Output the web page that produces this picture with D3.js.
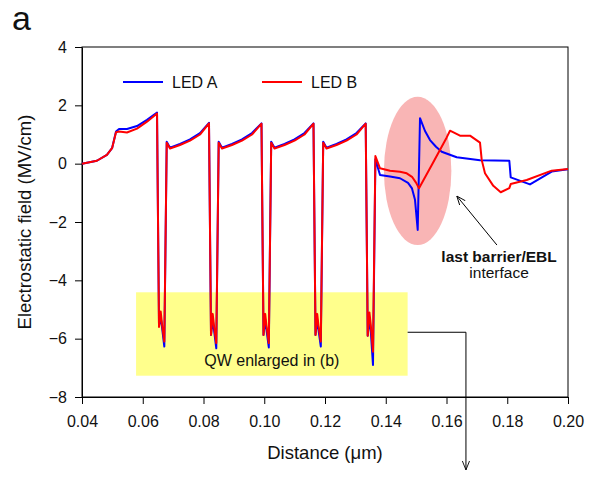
<!DOCTYPE html>
<html>
<head>
<meta charset="utf-8">
<script src="https://cdn.jsdelivr.net/npm/d3@7"></script>
<style>
  body { margin: 0; background: #fff; }
  svg text { font-family: "Liberation Sans", Arial, sans-serif; fill: #111; }
  .axis path, .axis line { stroke: #000; }
</style>
</head>
<body>
<svg id="chart" width="598" height="477"></svg>
<script>
// distance (um) through the 5 quantum wells, shared by both LEDs
const distQW = [0.040, 0.0449, 0.0482, 0.0499, 0.0512, 0.0522, 0.0548, 0.0581, 0.0614, 0.0647,
  0.06535, 0.06591, 0.06634, 0.0671, 0.06789, 0.06897, 0.07226, 0.07556, 0.07885, 0.08181,
  0.08247, 0.08303, 0.08346, 0.08421, 0.0850, 0.08609, 0.08938, 0.09267, 0.09597, 0.09909,
  0.09975, 0.10031, 0.10074, 0.1015, 0.10229, 0.10337, 0.10667, 0.10996, 0.11325, 0.11621,
  0.11687, 0.11743, 0.11786, 0.11862, 0.11941, 0.12049, 0.12379, 0.12708, 0.13037, 0.1334,
  0.13406, 0.13462, 0.13505, 0.1358, 0.13659];

// electrostatic field (MV/cm)
const fieldA_QW = [0, 0.1, 0.3, 0.53, 1.1, 1.19, 1.19, 1.29, 1.5, 1.75,
  -5.55, -5.25, -5.6, -6.27, 0.75, 0.55, 0.68, 0.83, 1.05, 1.4,
  -5.87, -5.35, -5.7, -6.33, 0.75, 0.55, 0.68, 0.83, 1.05, 1.38,
  -5.87, -5.35, -5.7, -6.3, 0.75, 0.55, 0.68, 0.83, 1.05, 1.38,
  -5.87, -5.35, -5.7, -6.27, 0.75, 0.55, 0.68, 0.83, 1.05, 1.38,
  -5.9, -5.35, -5.7, -6.9, 0.15];
const fieldB_QW = [0, 0.1, 0.3, 0.53, 1.08, 1.1, 1.07, 1.2, 1.44, 1.72,
  -5.6, -5.07, -5.5, -6.1, 0.72, 0.52, 0.64, 0.79, 1.0, 1.38,
  -5.87, -5.15, -5.55, -6.15, 0.72, 0.52, 0.64, 0.79, 1.0, 1.37,
  -5.87, -5.15, -5.55, -6.15, 0.72, 0.52, 0.64, 0.79, 1.0, 1.37,
  -5.87, -5.15, -5.55, -6.1, 0.72, 0.52, 0.64, 0.79, 1.0, 1.37,
  -5.9, -5.1, -5.5, -6.45, 0.26];

// last barrier, EBL and p-side
const distA_tail = [0.13811, 0.1414, 0.14469, 0.14733, 0.14864, 0.14963, 0.15052, 0.15128, 0.15293,
  0.15457, 0.15654, 0.15842, 0.16336, 0.17103, 0.18068, 0.18114, 0.18749, 0.19464, 0.20];
const fieldA_tail = [-0.39, -0.44, -0.5, -0.66, -0.85, -1.24, -2.27, 1.56, 1.12,
  0.81, 0.58, 0.41, 0.22, 0.12, 0.1, -0.47, -0.71, -0.27, -0.19];
const distB_tail = [0.13811, 0.1414, 0.14469, 0.1469, 0.14864, 0.14996, 0.15095, 0.15556, 0.16007,
  0.16115, 0.16444, 0.16774, 0.17103, 0.17159, 0.17267, 0.17541, 0.17785, 0.18068, 0.18114,
  0.18641, 0.19464, 0.20];
const fieldB_tail = [-0.16, -0.24, -0.28, -0.33, -0.45, -0.65, -0.84, 0.03, 0.9,
  1.13, 0.96, 0.96, 0.72, 0.13, -0.33, -0.76, -0.98, -0.84, -0.7,
  -0.56, -0.24, -0.18];

const xTicks = [0.04, 0.06, 0.08, 0.10, 0.12, 0.14, 0.16, 0.18, 0.20];
const yTicks = [4, 2, 0, -2, -4, -6, -8];
const seriesNames = ["LED A", "LED B"];
const seriesColors = ["#0000ff", "#ff0000"];

const svg = d3.select("#chart");
const m = { left: 82, right: 568, top: 47, bottom: 397 };

const x = d3.scaleLinear().domain([0.04, 0.20]).range([m.left, m.right]);
const y = d3.scaleLinear().domain([-8, 4]).range([m.bottom, m.top]);

function pairs(xs, ys) { return xs.map((d, i) => [d, ys[i]]); }
const series = [
  pairs(distQW, fieldA_QW).concat(pairs(distA_tail, fieldA_tail)),
  pairs(distQW, fieldB_QW).concat(pairs(distB_tail, fieldB_tail))
];

// "a" panel label
svg.append("text").attr("x", 12).attr("y", 30)
  .style("font-size", "34px").text("a");

// highlight shapes behind the curves
svg.append("rect")
  .attr("x", x(0.0578)).attr("y", y(-4.41))
  .attr("width", x(0.1472) - x(0.0578)).attr("height", y(-7.27) - y(-4.41))
  .attr("fill", "#ffff8c");
svg.append("text").attr("x", x(0.1025)).attr("y", y(-6.95))
  .attr("text-anchor", "middle").style("font-size", "16px")
  .text("QW enlarged in (b)");

svg.append("ellipse")
  .attr("cx", x(0.1505)).attr("cy", y(-0.25))
  .attr("rx", x(0.1505 + 0.0111) - x(0.1505)).attr("ry", y(-2.79) - y(-0.25))
  .attr("fill", "#f9b5b5");

// frame
svg.append("rect").attr("x", m.left).attr("y", m.top)
  .attr("width", m.right - m.left).attr("height", m.bottom - m.top)
  .attr("fill", "none").attr("stroke", "#000");

svg.append("g").attr("class", "axis")
  .attr("transform", `translate(0,${m.bottom})`)
  .call(d3.axisBottom(x).tickValues(xTicks).tickFormat(d3.format(".2f"))
    .tickSize(7).tickPadding(12).tickSizeOuter(0))
  .call(g => g.selectAll("text").style("font-size", "16px").attr("fill", "#111"));

svg.append("g").attr("class", "axis")
  .attr("transform", `translate(${m.left},0)`)
  .call(d3.axisLeft(y).tickValues(yTicks).tickSize(7).tickPadding(8).tickSizeOuter(0))
  .call(g => g.selectAll("text").style("font-size", "16px").attr("fill", "#111"));

svg.append("text").attr("x", (m.left + m.right) / 2).attr("y", 459)
  .attr("text-anchor", "middle").style("font-size", "18.5px")
  .text("Distance (\u03bcm)");
svg.append("text")
  .attr("transform", `translate(31,${(m.top + m.bottom) / 2}) rotate(-90)`)
  .attr("text-anchor", "middle").style("font-size", "18.5px")
  .text("Electrostatic field (MV/cm)");

// curves
const line = d3.line().x(d => x(d[0])).y(d => y(d[1]));
svg.selectAll(".curve").data(series).enter()
  .append("path").attr("class", "curve")
  .attr("d", line)
  .attr("fill", "none")
  .attr("stroke", (d, i) => seriesColors[i])
  .attr("stroke-width", 2)
  .attr("stroke-linejoin", "round");

// legend
const legend = svg.selectAll(".legend").data(seriesNames).enter()
  .append("g").attr("class", "legend")
  .attr("transform", (d, i) => `translate(${123 + i * 139},82)`);
legend.append("line").attr("x1", 0).attr("x2", 40)
  .attr("stroke", (d, i) => seriesColors[i]).attr("stroke-width", 2);
legend.append("text").attr("x", 49).attr("y", 6)
  .style("font-size", "16px").text(d => d);

// arrows
const defs = svg.append("defs");
defs.append("marker").attr("id", "open").attr("viewBox", "0 0 10 10")
  .attr("refX", 10).attr("refY", 5).attr("markerWidth", 9).attr("markerHeight", 9)
  .attr("markerUnits", "userSpaceOnUse").attr("orient", "auto")
  .append("path").attr("d", "M0,1 L10,5 L0,9").attr("fill", "none").attr("stroke", "#000");

svg.append("path")
  .attr("d", `M${x(0.1472)},${y(-5.78)} H${x(0.1664)} V${y(-10.5)}`)
  .attr("fill", "none").attr("stroke", "#000").attr("marker-end", "url(#open)");

svg.append("line")
  .attr("x1", x(0.1766)).attr("y1", y(-2.79))
  .attr("x2", x(0.1634)).attr("y2", y(-1.11))
  .attr("stroke", "#000").attr("marker-end", "url(#open)");

svg.append("text").attr("x", x(0.1773)).attr("y", y(-3.36))
  .attr("text-anchor", "middle").style("font-size", "15.5px").style("font-weight", "bold")
  .text("last barrier/EBL");
svg.append("text").attr("x", x(0.1773)).attr("y", y(-3.92))
  .attr("text-anchor", "middle").style("font-size", "15.5px")
  .text("interface");
</script>
</body>
</html>
